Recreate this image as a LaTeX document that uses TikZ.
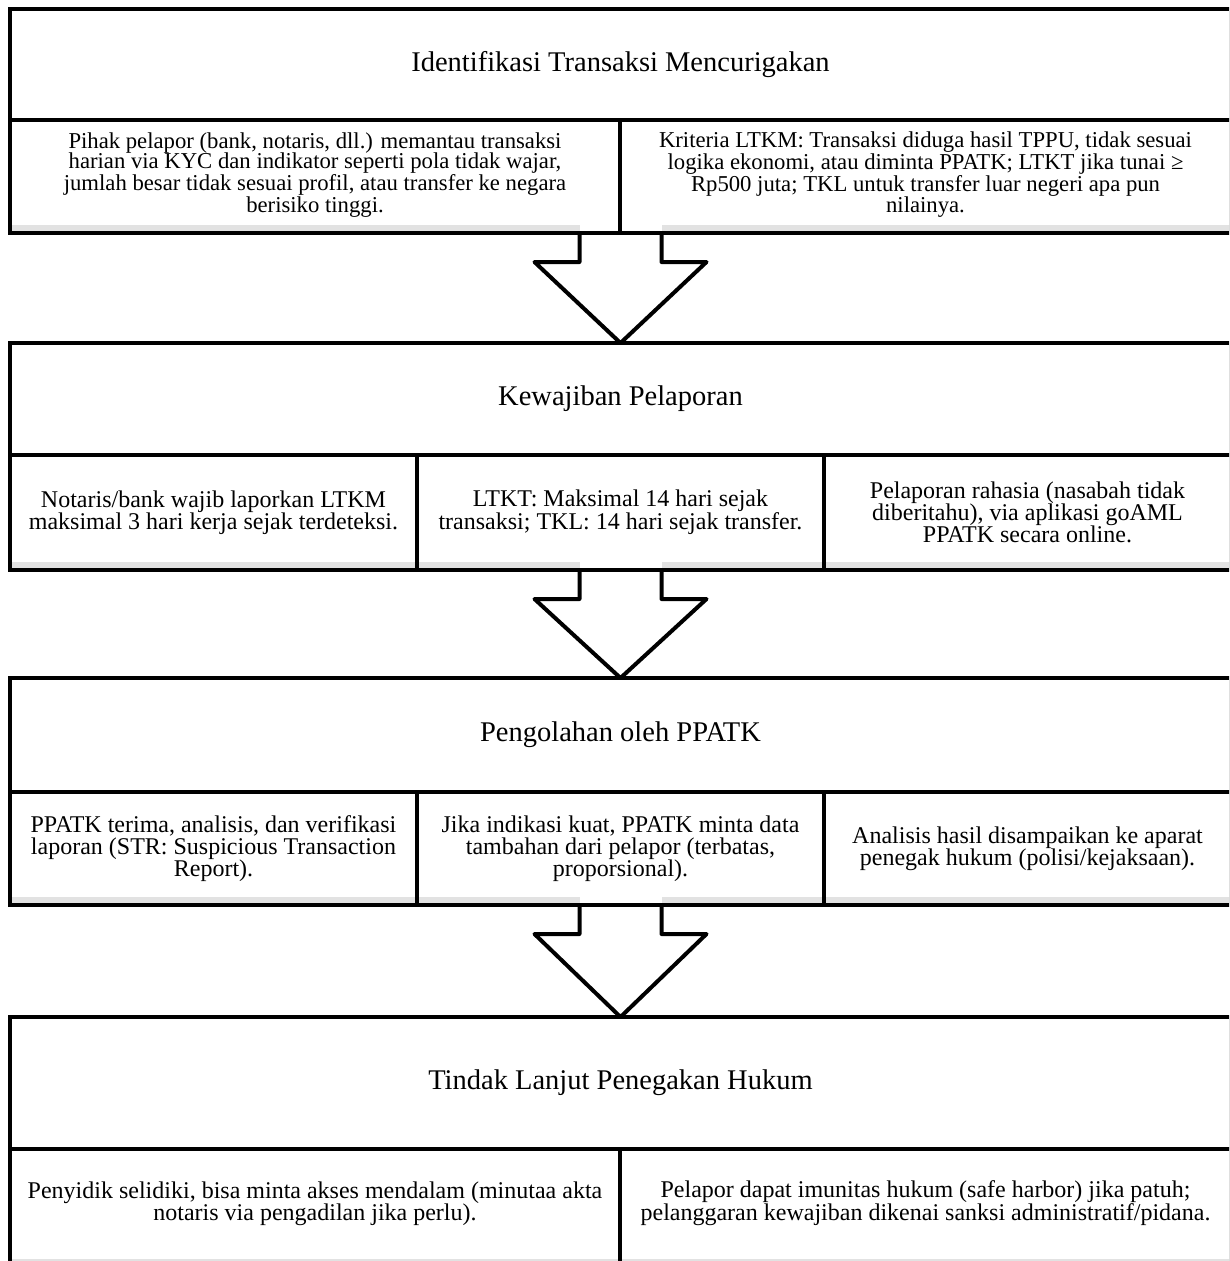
\documentclass[tikz,border=0pt]{standalone}
\usepackage{fontspec}
\setmainfont{Liberation Serif}
\usetikzlibrary{calc}
\definecolor{bandgrey}{HTML}{E2E2E2}
\newcommand\blockarrow[2]{%
  \fill[white] ($(#1)+(-41,-8)$) rectangle ($(#1)+(41,-2)$);
  \fill[white] ($(#1)+(-41,2)$) -- ($(#1)+(41,2)$) -- ($(#1)+(41,29)$) -- ($(#1)+(86,29)$) -- (#2) -- ($(#1)+(-86,29)$) -- ($(#1)+(-41,29)$) -- cycle;
  \draw[arrowline] ($(#1)+(-41,0)$) -- ($(#1)+(-41,29)$) -- ($(#1)+(-86,29)$) -- (#2) -- ($(#1)+(86,29)$) -- ($(#1)+(41,29)$) -- ($(#1)+(41,0)$);
}
\begin{document}
\begin{tikzpicture}[x=1pt,y=-1pt,
  head/.style={draw=black, line width=4pt, fill=white, anchor=north west, inner sep=0pt, outer sep=0pt,
    minimum width=1221pt, font=\fontsize{28.5}{32}\selectfont},
  cell/.style={draw=black, line width=4pt, fill=white, anchor=north west, inner sep=0pt, outer sep=0pt,
    align=center, font=\fontsize{24}{22}\selectfont,
    path picture={\fill[bandgrey] ($(path picture bounding box.south west)+(0,-8)$) rectangle (path picture bounding box.south east);}},
  small/.style={font=\fontsize{22.7}{20.6}\selectfont},
  arrowline/.style={draw=black, line width=4pt, line join=round}]
\useasboundingbox (0,0) rectangle (1229,1261);
\clip (0,0) rectangle (1229,1261);

% Stage 1
\node[head, minimum height=111pt] (h1) at (10,9) {Identifikasi Transaksi Mencurigakan};
\node[cell, small, minimum width=610pt, minimum height=113pt, text depth=8pt] (c11) at (10,120)
  {Pihak pelapor (bank, notaris, dll.) memantau transaksi\\harian via KYC dan indikator seperti pola tidak wajar,\\jumlah besar tidak sesuai profil, atau transfer ke negara\\berisiko tinggi.};
\node[cell, small, minimum width=611pt, minimum height=113pt, text depth=8pt] (c12) at (620,120)
  {Kriteria LTKM: Transaksi diduga hasil TPPU, tidak sesuai\\logika ekonomi, atau diminta PPATK; LTKT jika tunai ≥\\Rp500 juta; TKL untuk transfer luar negeri apa pun\\nilainya.};

% Stage 2
\node[head, minimum height=112pt] (h2) at (10,343) {Kewajiban Pelaporan};
\node[cell, minimum width=407pt, minimum height=115pt] (c21) at (10,455)
  {Notaris/bank wajib laporkan LTKM\\maksimal 3 hari kerja sejak terdeteksi.};
\node[cell, minimum width=407pt, minimum height=115pt] (c22) at (417,455)
  {LTKT: Maksimal 14 hari sejak\\transaksi; TKL: 14 hari sejak transfer.};
\node[cell, minimum width=407pt, minimum height=115pt] (c23) at (824,455)
  {Pelaporan rahasia (nasabah tidak\\diberitahu), via aplikasi goAML\\PPATK secara online.};

% Stage 3
\node[head, minimum height=114pt] (h3) at (10,678) {Pengolahan oleh PPATK};
\node[cell, minimum width=407pt, minimum height=113pt] (c31) at (10,792)
  {PPATK terima, analisis, dan verifikasi\\laporan (STR: Suspicious Transaction\\Report).};
\node[cell, minimum width=407pt, minimum height=113pt] (c32) at (417,792)
  {Jika indikasi kuat, PPATK minta data\\tambahan dari pelapor (terbatas,\\proporsional).};
\node[cell, minimum width=407pt, minimum height=113pt] (c33) at (824,792)
  {Analisis hasil disampaikan ke aparat\\penegak hukum (polisi/kejaksaan).};

% Stage 4
\node[head, minimum height=132pt] (h4) at (10,1017) {Tindak Lanjut Penegakan Hukum};
\node[cell, minimum width=610pt, minimum height=118pt, text depth=14pt] (c41) at (10,1149)
  {Penyidik selidiki, bisa minta akses mendalam (minutaa akta\\notaris via pengadilan jika perlu).};
\node[cell, minimum width=611pt, minimum height=118pt, text depth=14pt] (c42) at (620,1149)
  {Pelapor dapat imunitas hukum (safe harbor) jika patuh;\\pelanggaran kewajiban dikenai sanksi administratif/pidana.};

% Block arrows between stages
\coordinate (a1) at ($(c11.south east)+(0.5,0)$);
\blockarrow{a1}{h2.north}
\draw[line width=4pt] (c11.north east) -- (c11.south east);
\coordinate (a2) at (c22.south -| h3.north);
\blockarrow{a2}{h3.north}
\coordinate (a3) at (c32.south -| h4.north);
\blockarrow{a3}{h4.north}
\end{tikzpicture}
\end{document}
